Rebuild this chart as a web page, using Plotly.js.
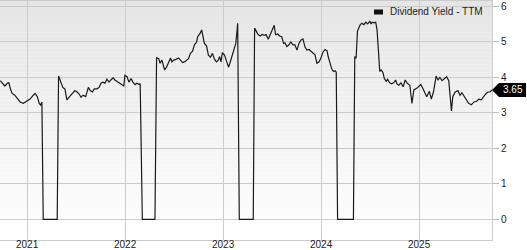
<!DOCTYPE html>
<html>
<head>
<meta charset="utf-8">
<script src="https://cdn.plot.ly/plotly-3.0.1.min.js"></script>
<style>html,body{margin:0;padding:0;background:#fff}#chart{width:527px;height:250px}</style>
</head>
<body>
<div id="chart"></div>
<script>
const seriesName = "Dividend Yield - TTM";
const lastLabel = "3.65";
const dates = [
"2020-09-22","2020-10-02","2020-10-09","2020-10-19","2020-10-24","2020-10-29","2020-11-05","2020-11-15","2020-11-25","2020-12-05",
"2020-12-17","2020-12-27","2021-01-11","2021-01-23","2021-01-30","2021-02-07","2021-02-14","2021-02-19","2021-02-24","2021-03-01",
"2021-04-22","2021-04-27","2021-05-06","2021-05-13","2021-05-21","2021-05-28","2021-06-07","2021-06-17","2021-06-27","2021-07-05",
"2021-07-12","2021-07-20","2021-07-27","2021-08-06","2021-08-16","2021-08-23","2021-08-31","2021-09-07","2021-09-17","2021-09-25",
"2021-10-02","2021-10-09","2021-10-17","2021-10-24","2021-11-01","2021-11-08","2021-11-16","2021-11-23","2021-12-01","2021-12-11",
"2021-12-18","2021-12-26","2021-12-30","2022-01-07","2022-01-14","2022-01-22","2022-01-29","2022-02-06","2022-02-13","2022-02-21",
"2022-02-25","2022-03-05","2022-04-21","2022-04-27","2022-05-05","2022-05-10","2022-05-17","2022-05-22","2022-05-27","2022-06-03",
"2022-06-10","2022-06-18","2022-06-23","2022-06-30","2022-07-08","2022-07-18","2022-07-25","2022-08-02","2022-08-09","2022-08-16",
"2022-08-24","2022-08-31","2022-09-08","2022-09-15","2022-09-23","2022-09-27","2022-10-05","2022-10-12","2022-10-17","2022-10-22",
"2022-10-30","2022-11-06","2022-11-14","2022-11-21","2022-11-29","2022-12-06","2022-12-13","2022-12-18","2022-12-23","2022-12-28",
"2023-01-05","2023-01-12","2023-01-20","2023-01-25","2023-02-01","2023-02-08","2023-02-16","2023-02-21","2023-02-23","2023-03-01",
"2023-04-22","2023-04-27","2023-05-03","2023-05-10","2023-05-18","2023-05-25","2023-06-02","2023-06-09","2023-06-17","2023-06-24",
"2023-07-02","2023-07-09","2023-07-14","2023-07-22","2023-07-29","2023-08-06","2023-08-13","2023-08-18","2023-08-25","2023-09-02",
"2023-09-09","2023-09-17","2023-09-24","2023-10-02","2023-10-09","2023-10-17","2023-10-24","2023-11-01","2023-11-08","2023-11-16",
"2023-11-23","2023-11-30","2023-12-08","2023-12-15","2023-12-23","2023-12-30","2024-01-07","2024-01-14","2024-01-22","2024-01-26",
"2024-02-01","2024-02-06","2024-02-10","2024-02-16","2024-02-21","2024-02-25","2024-03-01","2024-04-29","2024-05-04","2024-05-09",
"2024-05-14","2024-05-23","2024-05-30","2024-06-07","2024-06-14","2024-06-21","2024-06-29","2024-07-04","2024-07-08","2024-07-16",
"2024-07-21","2024-07-26","2024-07-31","2024-08-05","2024-08-10","2024-08-17","2024-08-22","2024-08-29","2024-09-03","2024-09-11",
"2024-09-18","2024-09-26","2024-10-03","2024-10-08","2024-10-15","2024-10-23","2024-10-31","2024-11-08","2024-11-15","2024-11-25",
"2024-12-03","2024-12-10","2024-12-22","2025-01-05","2025-01-14","2025-01-22","2025-01-27","2025-02-06","2025-02-13","2025-02-21",
"2025-03-03","2025-03-10","2025-03-17","2025-03-25","2025-04-04","2025-04-11","2025-04-19","2025-04-24","2025-04-29","2025-05-04",
"2025-05-13","2025-05-23","2025-05-31","2025-06-07","2025-06-15","2025-06-25","2025-07-02","2025-07-12","2025-07-22","2025-08-01",
"2025-08-09","2025-08-18","2025-08-26","2025-09-05","2025-09-12","2025-09-20","2025-09-27"
];
const yieldTTM = [
3.91,3.82,3.76,3.84,3.85,3.70,3.55,3.50,3.39,3.31,
3.27,3.31,3.39,3.50,3.55,3.46,3.27,3.22,3.31,0,
0,4.04,3.87,3.72,3.67,3.37,3.46,3.55,3.63,3.59,
3.54,3.44,3.50,3.46,3.72,3.63,3.59,3.68,3.68,3.72,
3.84,3.87,3.84,3.95,3.87,3.93,3.99,3.93,3.89,3.84,
3.80,3.76,4.06,4.02,3.87,3.97,3.87,3.80,3.84,3.80,
3.82,0,0,4.56,4.53,4.40,4.49,4.30,4.21,4.29,
4.42,4.55,4.44,4.49,4.51,4.55,4.49,4.42,4.44,4.49,
4.53,4.68,4.74,4.92,5.00,5.15,5.23,5.34,5.19,4.96,
4.89,4.63,4.57,4.68,4.51,4.44,4.49,4.59,4.44,4.70,
4.63,4.47,4.29,4.40,4.59,4.77,4.96,5.34,5.53,0,
0,5.39,5.32,5.21,5.17,5.21,5.19,5.21,5.08,5.21,
5.39,5.47,5.21,5.23,5.17,5.15,4.96,4.98,4.87,4.92,
5.00,4.92,4.92,4.77,4.96,5.06,5.09,4.85,4.77,4.79,
4.74,4.70,4.64,4.40,4.44,4.55,4.72,4.79,4.75,4.59,
4.40,4.30,4.21,4.17,4.19,4.15,0,0,4.59,4.54,
5.30,5.47,5.53,5.49,5.56,5.51,5.58,5.51,5.56,5.54,
5.56,5.34,4.77,4.17,4.21,4.14,3.97,3.89,3.95,3.85,
3.82,3.85,3.93,3.82,3.78,3.85,3.74,3.93,3.84,3.78,
3.27,3.65,3.70,3.80,3.67,3.52,3.46,3.61,3.39,3.59,
4.04,3.93,4.00,3.91,3.97,4.02,3.91,3.55,3.06,3.46,
3.59,3.63,3.50,3.57,3.48,3.37,3.27,3.23,3.31,3.33,
3.39,3.37,3.46,3.55,3.59,3.59,3.65
];
const xTickVals = ["2021-01-01","2022-01-01","2023-01-01","2024-01-01","2025-01-01"];
const xTickText = ["2021","2022","2023","2024","2025"];
const yTickVals = [0,1,2,3,4,5,6];
const yTickText = ["0","1","2","3","4","5","6"];

const FONT = "Liberation Sans, Arial, Helvetica, sans-serif";
const FS = 10;
const W = 527, H = 250, ML = 0, MR = 35, MT = 1, MB = 10;
const plotW = W - ML - MR, plotH = H - MT - MB;

// background gradient strips
const shapes = [];
const N = 60;
for (let i = 0; i < N; i++) {
  const t = i / (N - 1);
  const c = Math.round(229 + (255 - 229) * t);
  shapes.push({type:'rect', xref:'paper', yref:'paper', x0:0, x1:1,
    y0: 1 - (i + 1) / N, y1: 1 - i / N, line:{width:0},
    fillcolor:`rgb(${c},${c},${c})`, layer:'below'});
}
// legend swatch
shapes.push({type:'rect', xref:'paper', yref:'paper',
  x0: 374/plotW, x1: 383/plotW, y0: (240-14.5)/plotH, y1: (240-9.5)/plotH,
  fillcolor:'#111', line:{width:0}, layer:'above'});
// last value tag
const tagY = (240 - (219.5 - 3.65*35.5)) / plotH;
shapes.push({type:'path', xref:'paper', yref:'paper', xsizemode:'pixel', ysizemode:'pixel',
  xanchor:1, yanchor:tagY, path:'M0,0 L7,7 L34,7 L34,-7 L7,-7 Z',
  fillcolor:'#000', line:{width:0}, layer:'above'});

const trace = {
  x: dates, y: yieldTTM, type:'scatter', mode:'lines', name: seriesName,
  line:{color:'#1a1a1a', width:1.2}, hoverinfo:'skip', showlegend:false
};

const annotations = [
  {xref:'paper', yref:'paper', x:388/plotW, y:(240-12)/plotH, xanchor:'left', yanchor:'middle',
   text:seriesName, showarrow:false, font:{family:FONT, size:FS, color:'#222'}},
  {xref:'paper', yref:'paper', x:(492+20.5)/plotW, y:tagY, xanchor:'center', yanchor:'middle',
   text:lastLabel, showarrow:false, font:{family:FONT, size:FS, color:'#ffffff'}}
];
// x-axis year labels placed tight under the plot
xTickVals.forEach((v, i) => {
  annotations.push({xref:'x', yref:'paper', x:v, y:-4.5/plotH, xanchor:'center', yanchor:'middle',
    text:xTickText[i], showarrow:false, borderpad:0, font:{family:FONT, size:FS, color:'#222'}});
});

const layout = {
  width: W, height: H,
  margin:{l:ML, r:MR, t:MT, b:MB, pad:0},
  paper_bgcolor:'#ffffff', plot_bgcolor:'rgba(0,0,0,0)',
  font:{family:FONT, size:FS, color:'#222'},
  showlegend:false,
  xaxis:{type:'date', range:['2020-09-21','2025-09-27'],
    tickvals:xTickVals, ticktext:xTickText, showticklabels:false, showgrid:true, gridcolor:'#cccccc', gridwidth:1,
    ticks:'', showline:true, linecolor:'#cccccc', linewidth:1, mirror:true, zeroline:false, fixedrange:true},
  yaxis:{side:'right', range:[-0.58, 6.155], tickvals:yTickVals, ticktext:yTickText,
    showgrid:true, gridcolor:'#cccccc', gridwidth:1, ticks:'outside', ticklen:6, tickcolor:'#bbbbbb',
    showline:true, linecolor:'#cccccc', linewidth:1, mirror:true, zeroline:false,
    tickfont:{family:FONT, size:FS, color:'#222'}, fixedrange:true},
  shapes: shapes,
  annotations: annotations
};
Plotly.newPlot('chart', [trace], layout, {displayModeBar:false, staticPlot:true});
</script>
</body>
</html>
